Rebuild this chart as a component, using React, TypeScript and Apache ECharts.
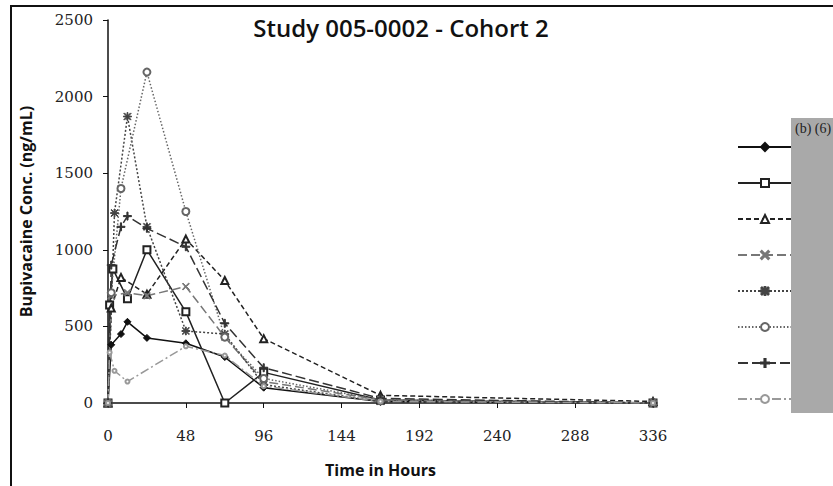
import React, { useEffect, useRef } from "react";
import * as echarts from "echarts";

// Plasma bupivacaine concentration (ng/mL) by subject, as [hour, conc] pairs
const subject1: [number, number][] = [[0, 0], [2, 380], [8, 450], [12, 530], [24, 425], [48, 390], [72, 300], [96, 100], [168, 10], [336, 0]];
const subject2: [number, number][] = [[0, 0], [1, 640], [3, 875], [12, 680], [24, 1000], [48, 595], [72, 0], [96, 200], [168, 20], [336, 0]];
const subject3: [number, number][] = [[0, 0], [2, 620], [8, 820], [24, 710], [48, 1070], [72, 800], [96, 420], [168, 50], [336, 10]];
const subject4: [number, number][] = [[0, 0], [2, 700], [12, 720], [24, 700], [48, 760], [72, 430], [96, 140], [168, 20], [336, 0]];
const subject5: [number, number][] = [[0, 0], [4, 1240], [12, 1870], [24, 1150], [48, 470], [72, 450], [96, 120], [168, 10], [336, 0]];
const subject6: [number, number][] = [[0, 0], [2, 720], [8, 1400], [24, 2160], [48, 1250], [72, 430], [96, 160], [168, 20], [336, 0]];
const subject7: [number, number][] = [[0, 0], [2, 900], [8, 1150], [12, 1220], [24, 1140], [48, 1020], [72, 520], [96, 230], [168, 30], [336, 0]];
const subject8: [number, number][] = [[0, 0], [1, 330], [4, 210], [12, 140], [48, 370], [72, 310], [96, 110], [168, 10], [336, 0]];

const subjectNames = ["Subject 1", "Subject 2", "Subject 3", "Subject 4", "Subject 5", "Subject 6", "Subject 7", "Subject 8"];
const subjectData = [subject1, subject2, subject3, subject4, subject5, subject6, subject7, subject8];

const xTicks = { min: 0, max: 336, interval: 48 };
const yTicks = { min: 0, max: 2500, interval: 500 };

const CROSS = "path://M1,0L5,4L9,0L10,1L6,5L10,9L9,10L5,6L1,10L0,9L4,5L0,1Z";
const PLUS = "path://M4.3,0H5.7V4.3H10V5.7H5.7V10H4.3V5.7H0V4.3H4.3Z";
const STAR =
  "path://M4.5,0H5.5V4.5H10V5.5H5.5V10H4.5V5.5H0V4.5H4.5Z M1.2,0.5L5,4.3L8.8,0.5L9.5,1.2L5.7,5L9.5,8.8L8.8,9.5L5,5.7L1.2,9.5L0.5,8.8L4.3,5L0.5,1.2Z";

const styles = [
  { color: "#111", type: "solid", symbol: "diamond", size: 7 },
  { color: "#222", type: "solid", symbol: "emptyRect", size: 7 },
  { color: "#222", type: [5, 3], symbol: "emptyTriangle", size: 7 },
  { color: "#777", type: [9, 4], symbol: CROSS, size: 7 },
  { color: "#444", type: [2, 2], symbol: STAR, size: 8 },
  { color: "#666", type: [1.5, 2], symbol: "emptyCircle", size: 7 },
  { color: "#333", type: [10, 4], symbol: PLUS, size: 8 },
  { color: "#999", type: [9, 3, 2, 3], symbol: "emptyCircle", size: 4 },
];

export default function App() {
  const ref = useRef<HTMLDivElement>(null);

  useEffect(() => {
    if (!ref.current) return;
    const chart = echarts.init(ref.current, null, { renderer: "svg" });

    const series = subjectData.map((d, i) => ({
      name: subjectNames[i],
      type: "line",
      data: d,
      symbol: styles[i].symbol,
      symbolSize: styles[i].size,
      lineStyle: { color: styles[i].color, width: 1.5, type: styles[i].type },
      itemStyle: { color: styles[i].color, borderColor: styles[i].color, borderWidth: 1 },
      emphasis: { disabled: true },
    }));

    chart.setOption({
      animation: false,
      backgroundColor: "#fff",
      title: {
        text: "Study 005-0002 - Cohort 2",
        left: 396,
        top: 10,
        textAlign: "center",
        textStyle: { fontFamily: "Open Sans", fontSize: 24, fontWeight: 600, color: "#111" },
      },
      legend: {
        data: subjectNames,
        orient: "vertical",
        left: 737,
        top: 142,
        padding: 0,
        itemWidth: 54,
        itemHeight: 10,
        itemGap: 26,
        selectedMode: false,
        formatter: () => "",
        textStyle: { fontSize: 8 },
      },
      grid: { left: 108, right: 180, top: 20, bottom: 83 },
      xAxis: {
        type: "value",
        ...xTicks,
        name: "Time in Hours",
        nameLocation: "middle",
        nameGap: 59,
        nameTextStyle: { fontFamily: "Open Sans", fontWeight: "bold", fontSize: 16, color: "#111" },
        axisLine: { lineStyle: { color: "#111", width: 1.5 } },
        axisTick: { inside: false, length: 5, lineStyle: { color: "#111" } },
        splitLine: { show: false },
        axisLabel: { margin: 25, fontFamily: "DejaVu Serif", fontSize: 15, color: "#222" },
      },
      yAxis: {
        type: "value",
        ...yTicks,
        name: "Bupivacaine Conc. (ng/mL)",
        nameLocation: "middle",
        nameGap: 74,
        nameRotate: 90,
        nameTextStyle: { fontFamily: "Open Sans", fontWeight: "bold", fontSize: 16, color: "#111" },
        axisLine: { show: true, lineStyle: { color: "#111", width: 1.5 } },
        axisTick: { show: true, inside: false, length: 5, lineStyle: { color: "#111" } },
        splitLine: { show: false },
        axisLabel: {
          margin: 15,
          fontFamily: "DejaVu Serif",
          fontSize: 15,
          color: "#222",
          formatter: (v: number) => String(v),
        },
      },
      graphic: [
        {
          type: "rect",
          shape: { x: 11, y: 6, width: 900, height: 600 },
          style: { fill: "none", stroke: "#111", lineWidth: 2 },
          silent: true,
        },
        {
          type: "rect",
          shape: { x: 791, y: 118, width: 60, height: 295 },
          style: { fill: "#a9a9a9" },
          silent: true,
          z: 10,
        },
        {
          type: "text",
          x: 795,
          y: 121,
          style: { text: "(b) (6)", font: "14px 'Liberation Serif'", fill: "#222" },
          silent: true,
          z: 11,
        },
      ],
      series,
    });

    return () => chart.dispose();
  }, []);

  return <div ref={ref} style={{ position: "absolute", left: 0, top: 0, width: 833, height: 486 }} />;
}
